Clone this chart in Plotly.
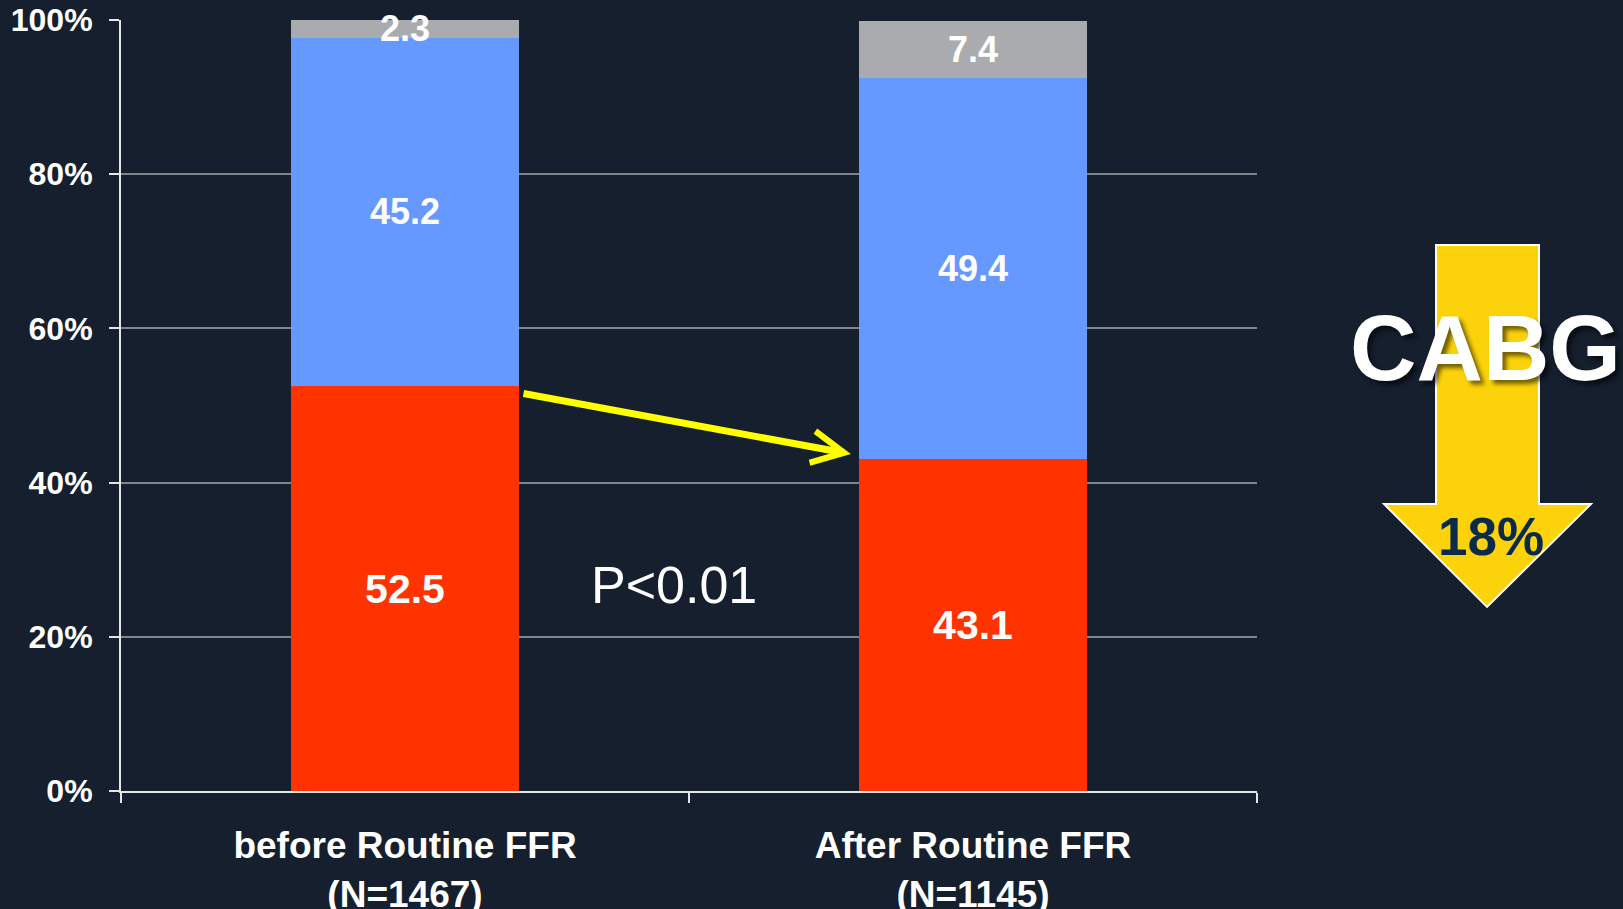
import plotly.graph_objects as go

# Share of patients by treatment strategy, before vs after routine FFR
categories = ["before Routine FFR<br>(N=1467)", "After Routine FFR<br>(N=1145)"]
cabg = [52.5, 43.1]
pci = [45.2, 49.4]
other = [2.3, 7.4]
y_ticks = [0, 20, 40, 60, 80, 100]
y_tick_text = ["0%", "20%", "40%", "60%", "80%", "100%"]

W, H = 1623, 909
ML, MR, MT, MB = 121, 366, 20, 118
BG = "#151f2d"
FONT = "Liberation Sans, Arial, sans-serif"


def px(x):
    return (x - ML) / (W - ML - MR)


def py(y):
    return (H - MB - y) / (H - MT - MB)


def seg(values, color, name, size):
    return go.Bar(
        x=categories, y=values, name=name,
        marker=dict(color=color, line=dict(width=0)),
        text=values, texttemplate="%{y:.1f}",
        textposition="inside", insidetextanchor="middle",
        textangle=0, constraintext="none", cliponaxis=False,
        textfont=dict(family=FONT, size=size, color="white", weight="bold"),
        hoverinfo="skip",
    )


fig = go.Figure([
    seg(cabg, "#ff3300", "CABG", 41),
    seg(pci, "#6699ff", "PCI", 36),
    seg(other, "#a9abae", "Other", 36),
])

# big down-arrow badge on the right
arrow_pts = [(1436, 245), (1539, 245), (1539, 504), (1591, 504),
             (1487, 607), (1384, 504), (1436, 504)]
path = "M " + " L ".join(f"{px(a):.4f},{py(b):.4f}" for a, b in arrow_pts) + " Z"
fig.add_shape(type="path", xref="paper", yref="paper", path=path,
              fillcolor="#fcd20a", line=dict(color="white", width=2))

fig.add_annotation(xref="paper", yref="paper", x=px(1485), y=py(348),
                   text="CABG", showarrow=False, xanchor="center", yanchor="middle",
                   font=dict(family=FONT, size=92, color="white", weight="bold",
                             shadow="4px 4px 4px rgba(0,0,0,0.55)"))
fig.add_annotation(xref="paper", yref="paper", x=px(1491), y=py(536),
                   text="18%", showarrow=False, xanchor="center", yanchor="middle",
                   font=dict(family=FONT, size=53, color="#0b2a47", weight="bold"))

# p-value and yellow trend arrow between the CABG segments
fig.add_annotation(x=0.474, y=26.7, xref="x", yref="y", text="P<0.01",
                   showarrow=False, font=dict(family=FONT, size=52, color="white"))
fig.add_annotation(x=0.785, y=43.7, ax=0.206, ay=51.6, xref="x", yref="y",
                   axref="x", ayref="y", text="", showarrow=True,
                   arrowhead=5, arrowsize=0.9, arrowwidth=7, arrowcolor="#ffff00",
                   standoff=0)

fig.update_layout(
    width=W, height=H,
    margin=dict(l=ML, r=MR, t=MT, b=MB),
    paper_bgcolor=BG, plot_bgcolor=BG,
    barmode="stack", bargap=0.6, showlegend=False,
    font=dict(family=FONT, color="white"),
)
fig.update_xaxes(
    automargin=False,
    showline=True, linecolor="#e6e6e6", linewidth=2,
    ticks="outside", tickson="boundaries", ticklen=10, tickcolor="#e6e6e6", tickwidth=2,
    ticklabelstandoff=21,
    tickfont=dict(family=FONT, size=37, color="white", weight="bold"),
    showgrid=False, layer="above traces",
)
fig.update_yaxes(
    automargin=False,
    range=[0, 100], tickvals=y_ticks, ticktext=y_tick_text,
    showline=True, linecolor="#e6e6e6", linewidth=2,
    ticks="outside", ticklen=10, tickcolor="#e6e6e6", tickwidth=2,
    ticklabelstandoff=10,
    tickfont=dict(family=FONT, size=32, color="white", weight="bold"),
    showgrid=True, gridcolor="#80858c", gridwidth=2, zeroline=False,
)

fig.write_html("out.html")
